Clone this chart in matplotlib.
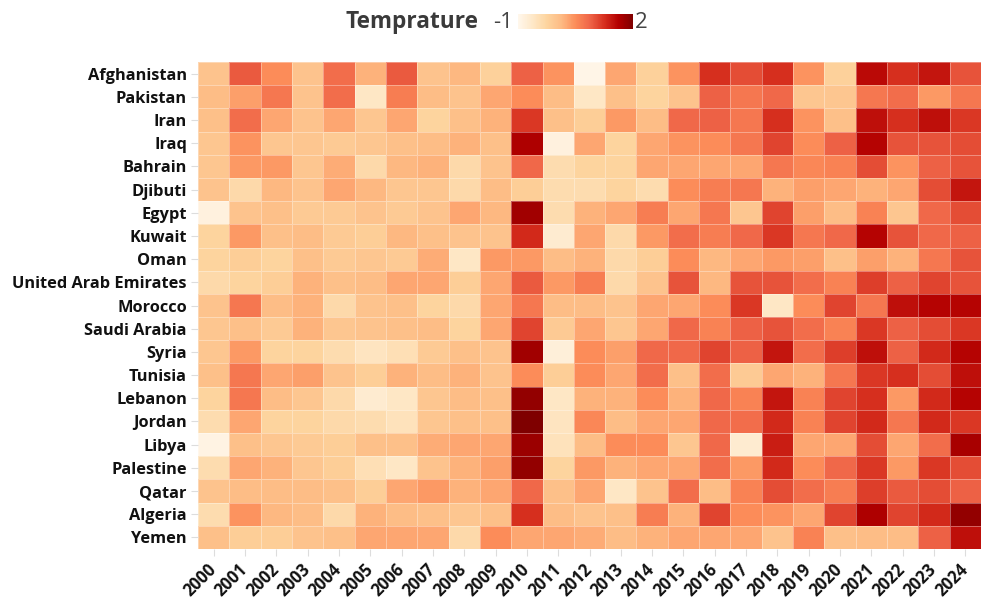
import numpy as np
import matplotlib
matplotlib.use("Agg")
import matplotlib.pyplot as plt

countries = ["Afghanistan", "Pakistan", "Iran", "Iraq", "Bahrain", "Djibuti", "Egypt",
             "Kuwait", "Oman", "United Arab Emirates", "Morocco", "Saudi Arabia", "Syria",
             "Tunisia", "Lebanon", "Jordan", "Libya", "Palestine", "Qatar", "Algeria", "Yemen"]
years = [str(y) for y in range(2000, 2025)]

# temperature anomaly per country, 2000..2024
afghanistan = [0.0, 0.95, 0.5, 0.0, 0.8, 0.2, 0.95, 0.0, 0.15, -0.2, 0.9, 0.45, -0.95, 0.3, -0.2, 0.45, 1.25, 1.05, 1.25, 0.45, -0.2, 1.55, 1.25, 1.45, 1.0]
pakistan = [0.1, 0.35, 0.7, 0.0, 0.8, -0.6, 0.65, 0.1, 0.0, 0.3, 0.5, 0.1, -0.6, 0.05, -0.25, 0.0, 0.9, 0.7, 0.85, -0.05, -0.05, 0.7, 0.8, 0.4, 0.7]
iran = [0.05, 0.8, 0.3, 0.0, 0.3, -0.05, 0.3, -0.25, 0.05, 0.2, 1.2, 0.05, -0.15, 0.4, 0.1, 0.85, 0.9, 0.7, 1.25, 0.45, 0.05, 1.5, 1.25, 1.5, 1.2]
iraq = [-0.05, 0.45, -0.05, -0.05, -0.1, -0.05, 0.05, 0.1, 0.2, 0.05, 1.65, -0.85, 0.3, -0.25, 0.3, 0.45, 0.5, 0.7, 1.1, 0.5, 0.9, 1.6, 1.0, 1.0, 1.05]
bahrain = [-0.05, 0.4, 0.4, -0.05, 0.25, -0.35, 0.15, 0.2, -0.35, 0.0, 0.85, -0.4, -0.25, -0.25, 0.3, 0.3, 0.3, 0.3, 0.7, 0.55, 0.6, 1.05, 0.45, 0.9, 1.0]
djibuti = [0.0, -0.35, 0.15, 0.0, 0.3, 0.15, -0.05, -0.05, -0.35, 0.1, -0.15, -0.4, -0.4, -0.25, -0.4, 0.5, 0.65, 0.7, 0.2, 0.35, 0.3, 0.2, 0.3, 1.05, 1.45]
egypt = [-0.85, 0.0, 0.05, -0.1, -0.1, 0.0, -0.1, 0.0, 0.3, 0.15, 1.75, -0.4, 0.2, 0.3, 0.65, 0.3, 0.7, -0.05, 1.1, 0.35, 0.1, 0.6, -0.05, 0.85, 1.05]
kuwait = [-0.25, 0.4, 0.05, 0.1, -0.1, -0.15, 0.15, 0.05, 0.0, 0.0, 1.3, -0.7, 0.3, -0.35, 0.4, 0.8, 0.65, 0.85, 1.2, 0.7, 0.85, 1.6, 1.0, 0.85, 0.9]
oman = [-0.25, -0.15, -0.25, 0.05, -0.1, -0.05, -0.1, 0.25, -0.6, 0.4, 0.4, 0.1, 0.2, -0.35, -0.15, 0.5, 0.15, 0.3, 0.4, 0.35, 0.05, 0.35, 0.2, 0.7, 1.0]
uae = [-0.35, -0.25, -0.15, 0.2, 0.05, 0.1, 0.3, 0.3, -0.15, 0.3, 0.95, 0.4, 0.65, -0.35, 0.0, 1.0, 0.15, 1.0, 1.0, 0.8, 0.6, 1.15, 0.9, 1.1, 1.0]
morocco = [0.0, 0.7, 0.1, 0.2, -0.35, 0.0, 0.05, -0.25, -0.35, 0.3, 0.7, 0.1, 0.1, 0.0, 0.3, 0.3, 0.5, 1.2, -0.6, 0.5, 1.1, 0.7, 1.5, 1.6, 1.6]
saudi_arabia = [-0.05, 0.05, -0.1, 0.2, -0.05, 0.0, 0.05, 0.1, -0.25, 0.3, 1.1, -0.1, 0.3, -0.05, 0.3, 0.85, 0.6, 0.9, 1.0, 0.8, 0.6, 1.2, 0.9, 1.05, 1.2]
syria = [-0.05, 0.4, -0.25, -0.25, -0.4, -0.55, -0.45, -0.1, 0.05, 0.0, 1.75, -0.8, 0.5, 0.35, 0.85, 0.85, 1.1, 0.9, 1.45, 0.8, 1.15, 1.5, 0.9, 1.3, 1.6]
tunisia = [0.05, 0.7, 0.3, 0.35, 0.0, -0.15, 0.2, 0.1, 0.2, 0.0, 0.5, -0.15, 0.5, 0.3, 0.8, 0.05, 0.8, -0.1, 0.3, 0.2, 0.7, 1.2, 1.25, 1.05, 1.5]
lebanon = [-0.25, 0.7, 0.1, -0.05, -0.35, -0.7, -0.6, -0.05, 0.1, 0.05, 1.85, -0.6, 0.2, 0.2, 0.5, 0.2, 0.85, 0.6, 1.45, 0.6, 1.1, 1.25, 0.4, 1.3, 1.6]
jordan = [-0.4, 0.3, -0.25, -0.25, -0.35, -0.4, -0.5, -0.05, 0.05, 0.05, 2.0, -0.55, 0.55, 0.1, 0.3, 0.3, 0.85, 0.8, 1.3, 0.6, 1.1, 1.3, 0.7, 1.3, 1.2]
libya = [-0.9, 0.05, -0.05, -0.1, -0.15, 0.05, 0.05, 0.25, 0.3, 0.3, 1.8, -0.5, 0.1, 0.5, 0.5, -0.05, 0.85, -0.7, 1.4, 0.3, 0.3, 1.05, 0.3, 0.8, 1.7]
palestine = [-0.4, 0.3, 0.2, -0.05, -0.15, -0.45, -0.6, 0.0, 0.2, 0.35, 1.85, -0.25, 0.4, 0.2, 0.3, 0.3, 0.8, 0.4, 1.3, 0.5, 0.85, 1.2, 0.4, 1.2, 1.05]
qatar = [0.0, 0.1, 0.1, 0.1, 0.05, -0.15, 0.3, 0.4, 0.2, 0.3, 0.85, 0.05, 0.3, -0.6, 0.0, 0.8, 0.1, 0.6, 1.05, 0.8, 0.65, 1.15, 0.95, 1.05, 0.9]
algeria = [-0.4, 0.45, 0.15, 0.1, -0.35, 0.2, 0.1, 0.05, -0.05, 0.05, 1.25, 0.1, 0.0, 0.05, 0.65, 0.2, 1.1, 0.5, 0.45, 0.3, 1.1, 1.65, 1.1, 1.3, 1.85]
yemen = [0.05, -0.15, -0.15, 0.0, 0.05, 0.3, 0.3, 0.3, -0.35, 0.5, 0.3, 0.3, 0.25, 0.1, 0.2, 0.3, 0.3, 0.3, 0.0, 0.6, 0.05, 0.1, 0.1, 0.9, 1.5]

temps = np.array([afghanistan, pakistan, iran, iraq, bahrain, djibuti, egypt, kuwait, oman,
                  uae, morocco, saudi_arabia, syria, tunisia, lebanon, jordan, libya,
                  palestine, qatar, algeria, yemen])

plt.rcParams['font.family'] = ['Open Sans', 'DejaVu Sans']

W, H = 981, 603
fig = plt.figure(figsize=(W / 100, H / 100), dpi=100)
ax = fig.add_axes([198 / W, 1 - 549 / H, 783 / W, 487 / H])

mesh = ax.pcolormesh(np.arange(len(years) + 1), np.arange(len(countries) + 1), temps,
                     cmap='OrRd', vmin=-1, vmax=2,
                     edgecolors=(1, 1, 1, 0.35), linewidth=0.6)
ax.set_xlim(0, len(years))
ax.set_ylim(len(countries), 0)

ax.set_xticks(np.arange(len(years)) + 0.5)
ax.set_xticklabels(years, rotation=45, ha='right', va='center', rotation_mode='anchor',
                   fontsize=12, fontweight='bold', color='#111111')
ax.set_yticks(np.arange(len(countries)) + 0.5)
ax.set_yticklabels(countries, fontsize=11.8, fontweight='bold', color='#111111')
ax.tick_params(axis='both', length=5, width=0.8, color='#dddddd')
ax.tick_params(axis='x', pad=8)
ax.tick_params(axis='y', pad=3)
for s in ax.spines.values():
    s.set_visible(False)

# legend bar on top
cax = fig.add_axes([518 / W, 1 - 29 / H, 115 / W, 15 / H])
cb = fig.colorbar(mesh, cax=cax, orientation='horizontal')
cb.outline.set_visible(False)
cb.set_ticks([])
cax.text(-0.04, 0.45, '-1', transform=cax.transAxes, ha='right', va='center',
         fontsize=16, color='#444444')
cax.text(1.02, 0.45, '2', transform=cax.transAxes, ha='left', va='center',
         fontsize=16, color='#444444')
fig.text(478 / W, 1 - 22 / H, 'Temprature', ha='right', va='center',
         fontsize=16.3, fontweight='bold', color='#3a3a3a')

fig.savefig('out.png', dpi=100)
